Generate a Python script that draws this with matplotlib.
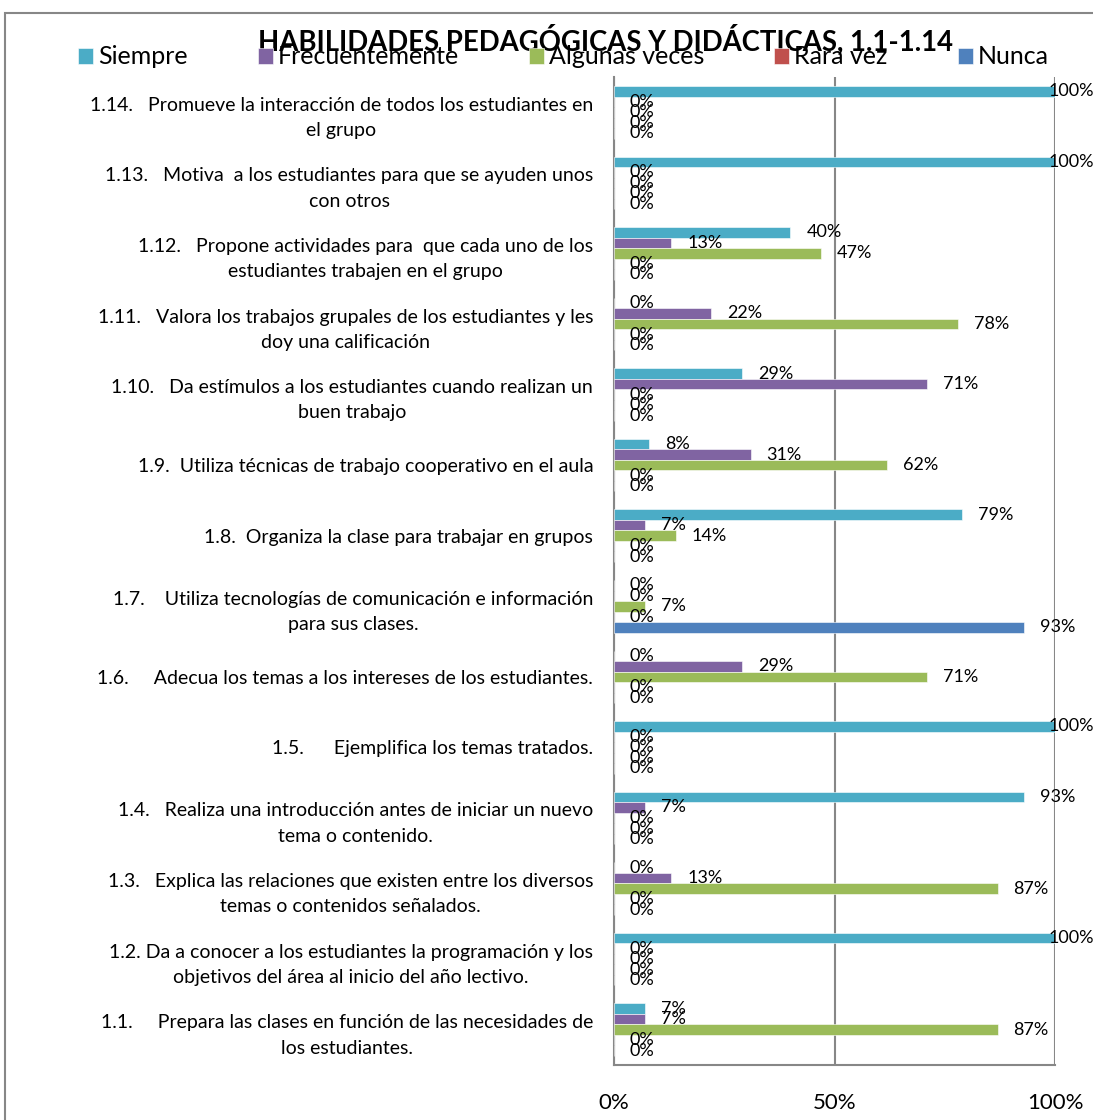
import numpy as np
import matplotlib.pyplot as plt
from matplotlib.patches import Rectangle

plt.rcParams['font.family'] = ['Lato', 'DejaVu Sans']

# categorias (de abajo hacia arriba)
preguntas = [
    "1.1.     Prepara las clases en función de las necesidades de\nlos estudiantes.",
    "1.2. Da a conocer a los estudiantes la programación y los\nobjetivos del área al inicio del año lectivo.",
    "1.3.   Explica las relaciones que existen entre los diversos\ntemas o contenidos señalados.",
    "1.4.   Realiza una introducción antes de iniciar un nuevo\ntema o contenido.",
    "1.5.      Ejemplifica los temas tratados.",
    "1.6.     Adecua los temas a los intereses de los estudiantes.",
    "1.7.    Utiliza tecnologías de comunicación e información\npara sus clases.",
    "1.8.  Organiza la clase para trabajar en grupos",
    "1.9.  Utiliza técnicas de trabajo cooperativo en el aula",
    "1.10.   Da estímulos a los estudiantes cuando realizan un\nbuen trabajo",
    "1.11.   Valora los trabajos grupales de los estudiantes y les\ndoy una calificación",
    "1.12.   Propone actividades para  que cada uno de los\nestudiantes trabajen en el grupo",
    "1.13.   Motiva  a los estudiantes para que se ayuden unos\ncon otros",
    "1.14.   Promueve la interacción de todos los estudiantes en\nel grupo",
]

series = ['Siempre', 'Frecuentemente', 'Algunas veces', 'Rara vez', 'Nunca']
colores = ['#4BACC6', '#8064A2', '#9BBB59', '#C0504D', '#4F81BD']

siempre = [0.07, 1.00, 0.00, 0.93, 1.00, 0.00, 0.00, 0.79, 0.08, 0.29, 0.00, 0.40, 1.00, 1.00]
frecuentemente = [0.07, 0.00, 0.13, 0.07, 0.00, 0.29, 0.00, 0.07, 0.31, 0.71, 0.22, 0.13, 0.00, 0.00]
algunas_veces = [0.87, 0.00, 0.87, 0.00, 0.00, 0.71, 0.07, 0.14, 0.62, 0.00, 0.78, 0.47, 0.00, 0.00]
rara_vez = [0.00] * 14
nunca = [0.00, 0.00, 0.00, 0.00, 0.00, 0.00, 0.93, 0.00, 0.00, 0.00, 0.00, 0.00, 0.00, 0.00]

valores = [siempre, frecuentemente, algunas_veces, rara_vez, nunca]

fig = plt.figure(figsize=(10.93, 11.2), dpi=100)
W, H = 1093, 1120
ax = fig.add_axes([614 / W, 1 - 1065 / H, (1055 - 614) / W, (1065 - 77) / H])

y = np.arange(len(preguntas))
alto = 0.149
gris = '#878787'

for k, (nombre, col, vals) in enumerate(zip(series, colores, valores)):
    pos = y + (2 - k) * alto
    ax.barh(pos, vals, height=alto, color=col, edgecolor='white', linewidth=0.4,
            label=nombre, zorder=3)
    for yy, v in zip(pos, vals):
        xt = min(v + 0.036, 0.985)
        ax.text(xt, yy, '%d%%' % round(v * 100), va='center', ha='left',
                fontsize=13, color='black', zorder=4)

ax.set_xlim(0, 1)
ax.set_ylim(-0.5, len(preguntas) - 0.5)
ax.set_xticks([0, 0.5, 1.0])
ax.set_xticklabels(['0%', '50%', '100%'], fontsize=16)
ax.set_yticks(y)
ax.set_yticklabels(preguntas, fontsize=14, linespacing=1.6)
for lbl in ax.get_yticklabels():
    lbl.set_multialignment('center')
ax.tick_params(axis='y', length=0, pad=15)
ax.tick_params(axis='x', length=0, pad=20)
ax.grid(axis='x', color=gris, linewidth=1.5, zorder=1)
for s in ['top', 'right']:
    ax.spines[s].set_visible(False)
for s in ['left', 'bottom']:
    ax.spines[s].set_color(gris)
    ax.spines[s].set_linewidth(1.5)

# marco del grafico
fig.patches.append(Rectangle((5 / W, -0.05), 1.2, 1 - 13 / H + 0.05, transform=fig.transFigure,
                             fill=False, edgecolor=gris, linewidth=1.5))

fig.text(605 / W, 1 - 40 / H, 'HABILIDADES PEDAGÓGICAS Y DIDÁCTICAS, 1.1-1.14',
         ha='center', va='center', fontsize=19.8, fontweight='bold')

fig.legend(loc='center left', bbox_to_anchor=(78 / W, 1 - 57 / H), ncol=5, frameon=False,
           fontsize=18, handlelength=0.6, handleheight=0.6, handletextpad=0.2,
           columnspacing=2.8, borderaxespad=0, borderpad=0)

fig.savefig('out.png', dpi=100)
